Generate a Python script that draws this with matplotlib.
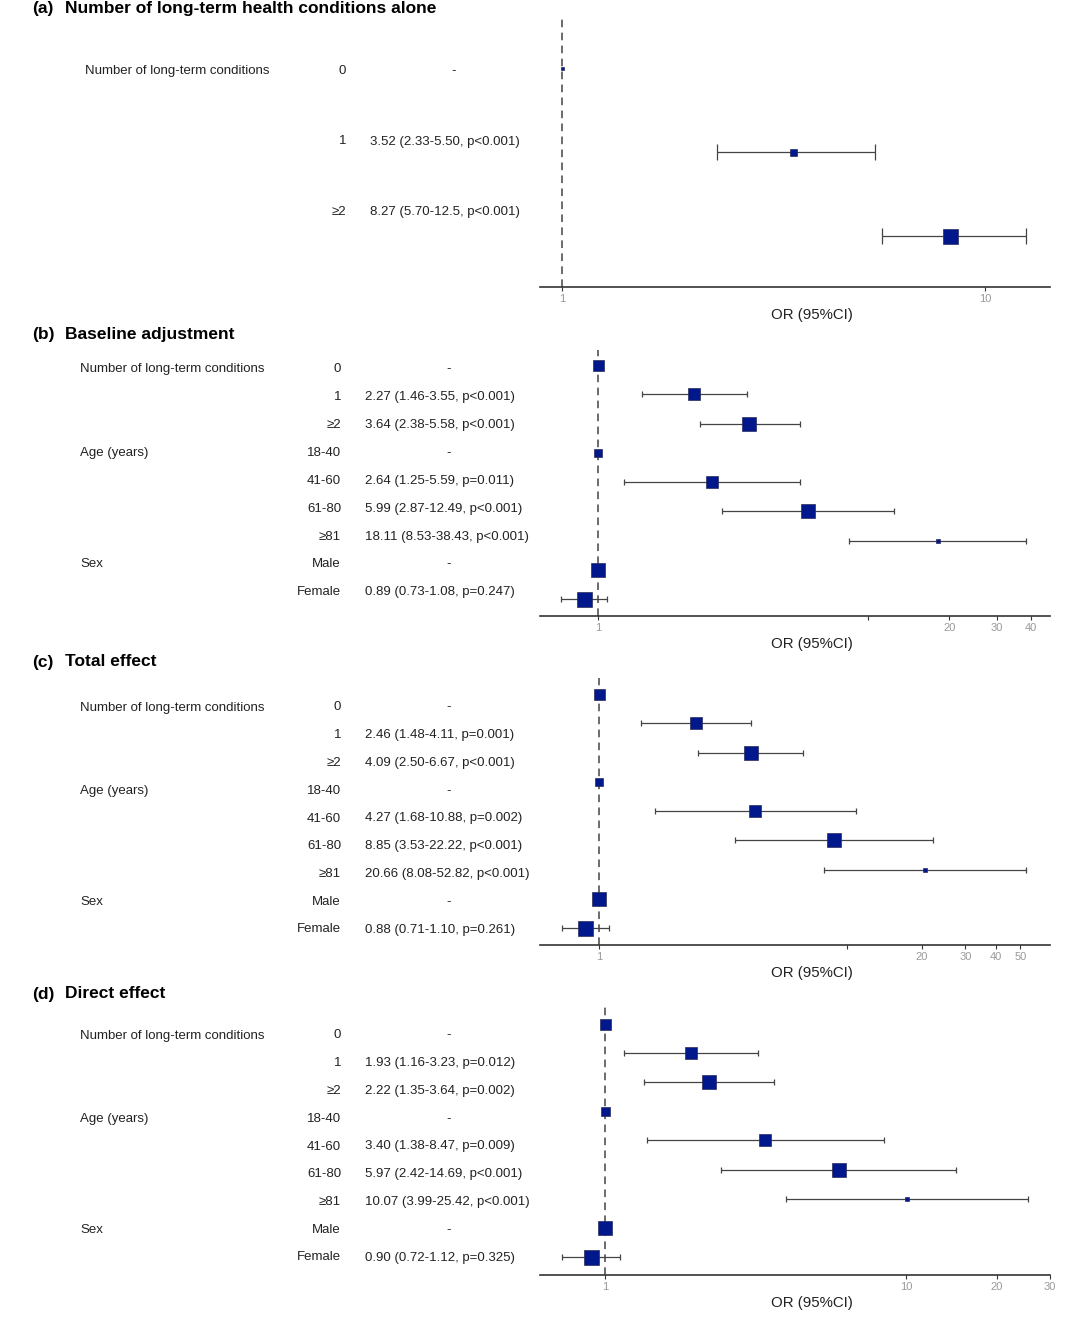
import numpy as np
import matplotlib
matplotlib.use("Agg")
import matplotlib.pyplot as plt
from matplotlib.ticker import FixedLocator, FixedFormatter, NullLocator

plt.rcParams['font.family'] = ['Liberation Sans', 'DejaVu Sans']

W, H = 1080, 1324

# ---- data -------------------------------------------------------------
titles = ["(a)", "(b)", "(c)", "(d)"]
names = ["Number of long-term health conditions alone", "Baseline adjustment",
         "Total effect", "Direct effect"]

groups_a = ["Number of long-term conditions", "", ""]
levels_a = ["0", "1", "≥2"]
groups_full = ["Number of long-term conditions", "", "", "Age (years)", "", "", "", "Sex", ""]
levels_full = ["0", "1", "≥2", "18-40", "41-60", "61-80", "≥81", "Male", "Female"]

or_a = [1, 3.52, 8.27]
lo_a = [np.nan, 2.33, 5.70]
hi_a = [np.nan, 5.50, 12.5]
txt_a = ["-", "3.52 (2.33-5.50, p<0.001)", "8.27 (5.70-12.5, p<0.001)"]
size_a = [3, 7, 15]

or_b = [1, 2.27, 3.64, 1, 2.64, 5.99, 18.11, 1, 0.89]
lo_b = [np.nan, 1.46, 2.38, np.nan, 1.25, 2.87, 8.53, np.nan, 0.73]
hi_b = [np.nan, 3.55, 5.58, np.nan, 5.59, 12.49, 38.43, np.nan, 1.08]
txt_b = ["-", "2.27 (1.46-3.55, p<0.001)", "3.64 (2.38-5.58, p<0.001)", "-",
         "2.64 (1.25-5.59, p=0.011)", "5.99 (2.87-12.49, p<0.001)",
         "18.11 (8.53-38.43, p<0.001)", "-", "0.89 (0.73-1.08, p=0.247)"]
size_b = [11, 12, 14, 8, 12, 14, 4, 14, 15]

or_c = [1, 2.46, 4.09, 1, 4.27, 8.85, 20.66, 1, 0.88]
lo_c = [np.nan, 1.48, 2.50, np.nan, 1.68, 3.53, 8.08, np.nan, 0.71]
hi_c = [np.nan, 4.11, 6.67, np.nan, 10.88, 22.22, 52.82, np.nan, 1.10]
txt_c = ["-", "2.46 (1.48-4.11, p=0.001)", "4.09 (2.50-6.67, p<0.001)", "-",
         "4.27 (1.68-10.88, p=0.002)", "8.85 (3.53-22.22, p<0.001)",
         "20.66 (8.08-52.82, p<0.001)", "-", "0.88 (0.71-1.10, p=0.261)"]
size_c = [11, 12, 14, 8, 12, 14, 4, 14, 15]

or_d = [1, 1.93, 2.22, 1, 3.40, 5.97, 10.07, 1, 0.90]
lo_d = [np.nan, 1.16, 1.35, np.nan, 1.38, 2.42, 3.99, np.nan, 0.72]
hi_d = [np.nan, 3.23, 3.64, np.nan, 8.47, 14.69, 25.42, np.nan, 1.12]
txt_d = ["-", "1.93 (1.16-3.23, p=0.012)", "2.22 (1.35-3.64, p=0.002)", "-",
         "3.40 (1.38-8.47, p=0.009)", "5.97 (2.42-14.69, p<0.001)",
         "10.07 (3.99-25.42, p<0.001)", "-", "0.90 (0.72-1.12, p=0.325)"]
size_d = [11, 12, 14, 9, 12, 14, 4, 14, 15]

ticks_a, tlab_a = [1, 10], ["1", "10"]
ticks_b, tlab_b = [1, 10, 20, 30, 40], ["1", "", "20", "30", "40"]
ticks_c, tlab_c = [1, 10, 20, 30, 40, 50], ["1", "", "20", "30", "40", "50"]
ticks_d, tlab_d = [1, 10, 20, 30], ["1", "10", "20", "30"]

# ---- layout (pixels) ---------------------------------------------------
panels = [
    dict(groups=groups_a, levels=levels_a, orv=or_a, lo=lo_a, hi=hi_a, txt=txt_a, size=size_a,
         ticks=ticks_a, tlab=tlab_a, xlim=(0.887, 14.25), title_y=8, label_x=85, level_x=346,
         est_x=370, dash_x=454, ty0=71, tdy=70.5, top=18, bot=287, ry0=68, rdy=84, cap=5.8),
    dict(groups=groups_full, levels=levels_full, orv=or_b, lo=lo_b, hi=hi_b, txt=txt_b, size=size_b,
         ticks=ticks_b, tlab=tlab_b, xlim=(0.61, 47.2), title_y=334, label_x=80, level_x=341,
         est_x=365, dash_x=449, ty0=369.5, tdy=27.85, top=350, bot=616, ry0=365, rdy=29.25, cap=2.2),
    dict(groups=groups_full, levels=levels_full, orv=or_c, lo=lo_c, hi=hi_c, txt=txt_c, size=size_c,
         ticks=ticks_c, tlab=tlab_c, xlim=(0.578, 65.9), title_y=661, label_x=80, level_x=341,
         est_x=365, dash_x=449, ty0=707.5, tdy=27.75, top=678, bot=945, ry0=694, rdy=29.25, cap=2.2),
    dict(groups=groups_full, levels=levels_full, orv=or_d, lo=lo_d, hi=hi_d, txt=txt_d, size=size_d,
         ticks=ticks_d, tlab=tlab_d, xlim=(0.608, 30.1), title_y=993, label_x=80, level_x=341,
         est_x=365, dash_x=449, ty0=1035.5, tdy=27.75, top=1007, bot=1275, ry0=1024, rdy=29.1, cap=2.2),
]

fig = plt.figure(figsize=(W / 100, H / 100), dpi=100)


def ftext(x, y, s, **kw):
    fig.text(x / W, 1 - y / H, s, **kw)


for k, p in enumerate(panels):
    # title
    ftext(32, p['title_y'] + 1, titles[k], fontsize=12.5, fontweight='bold', va='center')
    ftext(65, p['title_y'] + 1, names[k], fontsize=12.5, fontweight='bold', va='center')

    # table text
    for i, (g, lev, t) in enumerate(zip(p['groups'], p['levels'], p['txt'])):
        y = p['ty0'] + i * p['tdy']
        if g:
            ftext(p['label_x'], y, g, fontsize=9.5, color='#222222', va='center')
        ftext(p['level_x'], y, lev, fontsize=9.5, color='#222222', va='center', ha='right')
        if t == "-":
            ftext(p['dash_x'], y, t, fontsize=9.5, color='#222222', va='center', ha='center')
        else:
            ftext(p['est_x'], y, t, fontsize=9.5, color='#222222', va='center')

    # forest plot
    x0, x1 = 540, 1050
    ax = fig.add_axes([x0 / W, 1 - p['bot'] / H, (x1 - x0) / W, (p['bot'] - p['top']) / H])
    n = len(p['orv'])
    rows = np.arange(n)
    orv = np.array(p['orv'], dtype=float)
    lo = np.array(p['lo'], dtype=float)
    hi = np.array(p['hi'], dtype=float)

    ax.axvline(1, color='#444444', lw=1.1, ls=(0, (5, 3.5)), zorder=1)
    has_ci = ~np.isnan(lo)
    ax.errorbar(orv[has_ci], rows[has_ci],
                xerr=[orv[has_ci] - lo[has_ci], hi[has_ci] - orv[has_ci]],
                fmt='none', ecolor='#444444', elinewidth=0.9, capsize=p['cap'],
                capthick=0.9, zorder=2)
    for r, v, s in zip(rows, orv, p['size']):
        ax.plot(v, r, marker='s', ms=s * 0.72, mfc='#00188c', mec='#2a2a5a',
                mew=0.5, ls='none', zorder=3)

    ax.set_xscale('log')
    ax.set_xlim(*p['xlim'])
    ax.set_ylim((p['bot'] - p['ry0']) / p['rdy'], (p['top'] - p['ry0']) / p['rdy'])
    ax.xaxis.set_major_locator(FixedLocator(p['ticks']))
    ax.xaxis.set_major_formatter(FixedFormatter(p['tlab']))
    ax.xaxis.set_minor_locator(NullLocator())
    ax.set_yticks([])
    for side in ['top', 'right', 'left']:
        ax.spines[side].set_visible(False)
    ax.spines['bottom'].set_color('#333333')
    ax.spines['bottom'].set_linewidth(1.2)
    ax.tick_params(axis='x', length=3, width=0.8, color='#333333',
                   labelsize=8, labelcolor='#999999', pad=2)
    ax.patch.set_alpha(0)
    ax.set_xlabel("OR (95%CI)", fontsize=10.8, color='#222222')
    ax.xaxis.set_label_coords((812 - x0) / (x1 - x0), -21 / (p['bot'] - p['top']))

fig.savefig("out.png", dpi=100, facecolor='white')
